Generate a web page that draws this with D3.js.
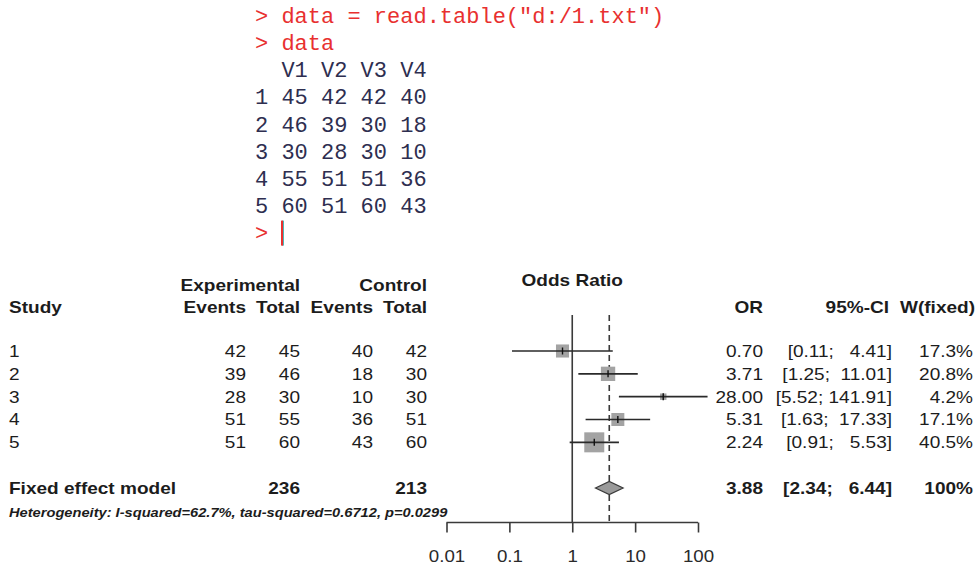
<!DOCTYPE html>
<html>
<head>
<meta charset="utf-8">
<script src="https://cdn.jsdelivr.net/npm/d3@7"></script>
<style>
body { margin: 0; background: #fff; }
text { font-family: "Liberation Sans", Arial, sans-serif; fill: #1c1c1c; }
.mono { font-family: "Liberation Mono", "Courier New", monospace; font-size: 22px; }
</style>
</head>
<body>
<div id="chart"></div>
<script>
// study data
const studies = ["1", "2", "3", "4", "5"];
const eventE = [42, 39, 28, 51, 51];
const totalE = [45, 46, 30, 55, 60];
const eventC = [40, 18, 10, 36, 43];
const totalC = [42, 30, 30, 51, 60];

// meta analysis results
const orVals = [0.70, 3.71, 28.00, 5.31, 2.24];
const ciLow = [0.11, 1.25, 5.52, 1.63, 0.91];
const ciHigh = [4.41, 11.01, 141.91, 17.33, 5.53];
const weights = [17.3, 20.8, 4.2, 17.1, 40.5];

const pooled = {or: 3.88, low: 2.34, high: 6.44, w: "100%"};
const pooledTotals = [236, 213];
const hetText = "Heterogeneity: I-squared=62.7%, tau-squared=0.6712, p=0.0299";

const tickVals = [0.01, 0.1, 1, 10, 100];
const cmdLines = ['> data = read.table("d:/1.txt")', "> data"];
const tableHead = "  V1 V2 V3 V4";

const width = 980, height = 570;

const svg = d3.select("#chart").append("svg")
  .attr("width", width)
  .attr("height", height);

// ---- console part ----
const con = svg.append("g");
var lineH = 27.2, conX = 255, conY = 15;

var conLines = cmdLines.map(s => ({t: s, c: "#e8302f"}));
conLines.push({t: tableHead, c: "#2e2e50"});
studies.forEach((s, i) => {
  conLines.push({t: s + " " + [totalE[i], eventE[i], totalC[i], eventC[i]].join(" "), c: "#2e2e50"});
});
conLines.push({t: ">", c: "#e8302f"});

con.selectAll("text")
  .data(conLines)
  .enter()
  .append("text")
  .attr("class", "mono")
  .attr("xml:space", "preserve")
  .style("white-space", "pre")
  .attr("x", conX)
  .attr("y", (d, i) => conY + i * lineH)
  .attr("dy", "0.35em")
  .style("fill", d => d.c)
  .text(d => d.t);

// cursor
var curY = conY + (conLines.length - 1) * lineH;
con.append("rect").attr("x", 282).attr("y", curY - 12).attr("width", 2).attr("height", 25).attr("fill", "#4bb8b8");
con.append("rect").attr("x", 281).attr("y", curY - 12).attr("width", 2).attr("height", 25).attr("fill", "#e8302f");

// ---- forest plot ----
const x = d3.scaleLog().domain([0.01, 100]).range([446.5, 698]);
const y = d3.scaleLinear().domain([0, 6]).range([351, 488]);
const axisY = 522.5, plotTop = 315;

const fs = 17, sx = 1.12;  // text in the original is a bit wide

function txt(g, str, xx, yy, anchor, bold) {
  return g.append("text")
    .attr("transform", "translate(" + xx + "," + yy + ") scale(" + sx + ",1)")
    .attr("dy", "0.35em")
    .attr("text-anchor", anchor)
    .attr("font-size", fs)
    .attr("font-weight", bold ? "bold" : "normal")
    .attr("xml:space", "preserve")
    .style("white-space", "pre")
    .text(str);
}

const tbl = svg.append("g");
// headers
txt(tbl, "Experimental", 300, 285, "end", true);
txt(tbl, "Control", 427, 285, "end", true);
txt(tbl, "Study", 9, 307, "start", true);
txt(tbl, "Events", 246, 307, "end", true);
txt(tbl, "Total", 300, 307, "end", true);
txt(tbl, "Events", 373, 307, "end", true);
txt(tbl, "Total", 427, 307, "end", true);
txt(tbl, "OR", 763, 307, "end", true);
txt(tbl, "95%-CI", 889, 307, "end", true);
txt(tbl, "W(fixed)", 975, 307, "end", true);
txt(tbl, "Odds Ratio", x(1), 280, "middle", true);

// CI strings, upper bound padded like R's format()
var hiStr = ciHigh.map(v => v.toFixed(2));
var padLen = d3.max(hiStr, s => s.length);
function ciFmt(lo, hi) {
  var h = hi.toFixed(2);
  return "[" + lo.toFixed(2) + "; " + " ".repeat(padLen - h.length) + h + "]";
}

studies.forEach((s, i) => {
  var yy = y(i);
  txt(tbl, s, 9, yy, "start", false);
  txt(tbl, eventE[i], 246, yy, "end", false);
  txt(tbl, totalE[i], 300, yy, "end", false);
  txt(tbl, eventC[i], 373, yy, "end", false);
  txt(tbl, totalC[i], 427, yy, "end", false);
  txt(tbl, orVals[i].toFixed(2), 763, yy, "end", false);
  txt(tbl, ciFmt(ciLow[i], ciHigh[i]), 892, yy, "end", false);
  txt(tbl, weights[i].toFixed(1) + "%", 973, yy, "end", false);
});

// pooled row
var py = y(6);
txt(tbl, "Fixed effect model", 9, py, "start", true);
txt(tbl, pooledTotals[0], 300, py, "end", true);
txt(tbl, pooledTotals[1], 427, py, "end", true);
txt(tbl, pooled.or.toFixed(2), 763, py, "end", true);
txt(tbl, ciFmt(pooled.low, pooled.high), 892, py, "end", true);
txt(tbl, pooled.w, 973, py, "end", true);

tbl.append("text")
  .attr("transform", "translate(9,512) scale(1.11,1)")
  .attr("dy", "0.35em")
  .attr("font-size", 13.2)
  .attr("font-weight", "bold")
  .attr("font-style", "italic")
  .text(hetText);

// reference lines
const plot = svg.append("g");
plot.append("line")
  .attr("x1", x(1)).attr("x2", x(1))
  .attr("y1", plotTop).attr("y2", axisY)
  .attr("stroke", "#3a3a3a").attr("stroke-width", 1.6);
plot.append("line")
  .attr("x1", x(pooled.or)).attr("x2", x(pooled.or))
  .attr("y1", plotTop).attr("y2", axisY)
  .attr("stroke", "#3a3a3a").attr("stroke-width", 1.6)
  .attr("stroke-dasharray", "6,4");

// boxes sized by sqrt(weight)
var boxSize = d3.scaleSqrt().domain([0, 40.5]).range([0, 20]);

var rows = studies.map((s, i) => ({i: i, or: orVals[i], lo: ciLow[i], hi: ciHigh[i], w: weights[i]}));

plot.selectAll(".box")
  .data(rows)
  .enter()
  .append("rect")
  .attr("class", "box")
  .attr("x", d => x(d.or) - boxSize(d.w) / 2)
  .attr("y", d => y(d.i) - boxSize(d.w) / 2)
  .attr("width", d => boxSize(d.w))
  .attr("height", d => boxSize(d.w))
  .attr("fill", "#a3a3a3");

plot.selectAll(".ci")
  .data(rows)
  .enter()
  .append("line")
  .attr("class", "ci")
  .attr("x1", d => x(d.lo))
  .attr("x2", d => x(d.hi))
  .attr("y1", d => y(d.i))
  .attr("y2", d => y(d.i))
  .attr("stroke", "#2a2a2a").attr("stroke-width", 1.6);

plot.selectAll(".est")
  .data(rows)
  .enter()
  .append("line")
  .attr("class", "est")
  .attr("x1", d => x(d.or))
  .attr("x2", d => x(d.or))
  .attr("y1", d => y(d.i) - 3.5)
  .attr("y2", d => y(d.i) + 3.5)
  .attr("stroke", "#111").attr("stroke-width", 1.4);

// diamond
var dh = 6.5;
plot.append("path")
  .attr("d", "M" + x(pooled.low) + "," + py +
    "L" + x(pooled.or) + "," + (py - dh) +
    "L" + x(pooled.high) + "," + py +
    "L" + x(pooled.or) + "," + (py + dh) + "Z")
  .attr("fill", "#9a9a9a")
  .attr("stroke", "#3a3a3a").attr("stroke-width", 1.2);

// axis
var axis = d3.axisBottom(x)
  .tickValues(tickVals)
  .tickFormat(d => d)
  .tickSize(10)
  .tickPadding(17);

var ax = svg.append("g")
  .attr("transform", "translate(0," + axisY + ")")
  .call(axis);
ax.select(".domain").attr("stroke", "#3a3a3a").attr("stroke-width", 1.6)
  .attr("d", "M" + x(0.01) + ",0H" + x(100));
ax.selectAll(".tick line").attr("stroke", "#3a3a3a").attr("stroke-width", 1.6);
ax.selectAll(".tick text")
  .attr("font-size", 17)
  .attr("transform", "scale(1.1,1)")
  .attr("font-family", "Liberation Sans, Arial, sans-serif")
  .style("fill", "#2a2a2a");
</script>
</body>
</html>
